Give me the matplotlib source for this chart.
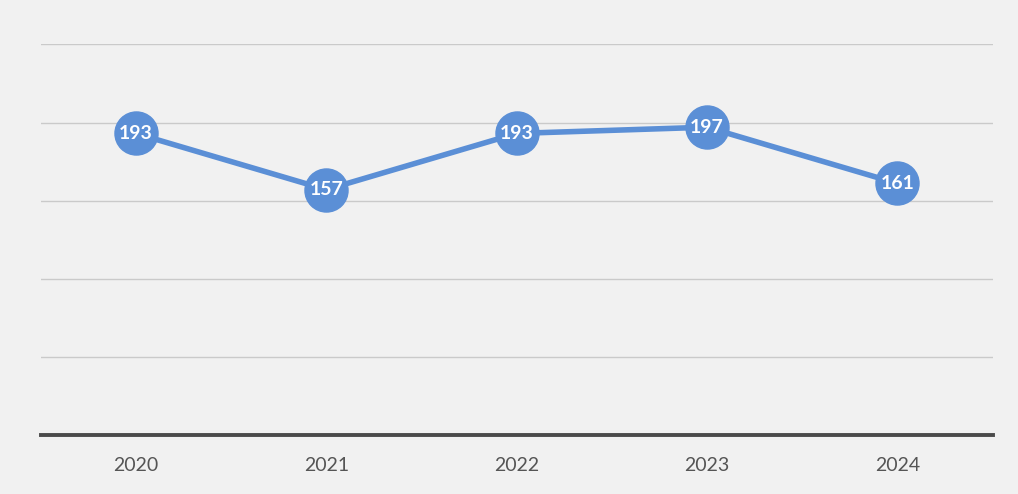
import matplotlib.pyplot as plt

# data
years = ["2020", "2021", "2022", "2023", "2024"]
counts = [193, 157, 193, 197, 161]
y_ticks = [0, 50, 100, 150, 200, 250]

blue = "#5b8fd6"

fig = plt.figure(figsize=(10.18, 4.94), dpi=100, facecolor="#f1f1f1")
ax = fig.add_axes([0.04, 0.12, 0.935, 0.79])
ax.set_facecolor("#f1f1f1")

x = list(range(len(years)))
ax.plot(x, counts, color=blue, lw=4, marker="o", ms=31,
        markerfacecolor=blue, markeredgecolor=blue, zorder=3)

for xi, v in zip(x, counts):
    ax.text(xi, v, str(v), color="white", fontsize=14, fontweight="bold",
            family="Lato", ha="center", va="center", zorder=4)

ax.set_xlim(-0.5, len(years) - 0.5)
ax.set_ylim(0, 250)
ax.set_yticks(y_ticks)
ax.yaxis.grid(True, color="#cacaca", lw=1)
ax.set_axisbelow(True)
ax.tick_params(axis="y", left=False, labelleft=False)

ax.set_xticks(x)
ax.set_xticklabels(years, fontsize=14, family="Lato", color="#555555")
ax.tick_params(axis="x", length=0, pad=16)

for s in ["top", "right", "left"]:
    ax.spines[s].set_visible(False)
ax.spines["bottom"].set_color("#4a4a4a")
ax.spines["bottom"].set_linewidth(2.8)

fig.savefig("out.png", dpi=100, facecolor=fig.get_facecolor())
